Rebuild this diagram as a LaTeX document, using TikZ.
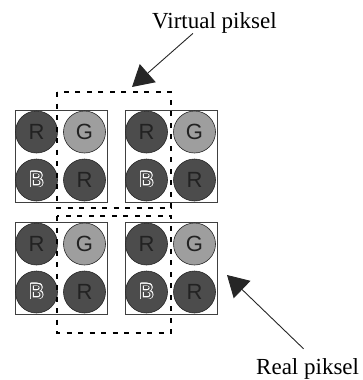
\documentclass[tikz,border=0pt]{standalone}
\usepackage{fontspec}
\setmainfont{Liberation Serif}
\newfontfamily\dotfont{Liberation Sans}
\usepackage{contour}
\contourlength{0.7pt}
\usetikzlibrary{arrows.meta}
\definecolor{darkdot}{RGB}{76,76,76}
\definecolor{litedot}{RGB}{158,158,158}
\definecolor{dotink}{RGB}{34,34,34}
\begin{document}
\begin{tikzpicture}[x=1pt,y=1pt,yscale=-1,
  cell/.style={draw=black!75,line width=0.8pt},
  dot/.style={circle,draw=black!85,line width=0.6pt,minimum size=42pt,inner sep=0pt,text=dotink,font=\dotfont\fontsize{22}{22}\selectfont},
  virtframe/.style={line width=2.8pt,dash pattern=on 5pt off 6.5pt},
  lbl/.style={inner sep=0pt,font=\fontsize{23}{27}\selectfont},
  pointer/.style={draw=black!85,line width=0.9pt,-{Triangle[length=21pt,width=24pt]}}]
\useasboundingbox (0,0) rectangle (363,380);
% the four real pixels
\foreach \bx/\by [count=\k] in {15/110,125/110,15/222,125/222} {
  \draw[cell] (\bx,\by) rectangle ++(92,92);
  \node[dot,fill=darkdot] (r\k) at (\bx+21.5,\by+22) {R};
  \node[dot,fill=litedot] (g\k) at (\bx+69.5,\by+22) {G};
  \node[dot,fill=darkdot,text=darkdot] (b\k) at (\bx+21.5,\by+70) {\contour{white}{B}};
  \node[dot,fill=darkdot] (s\k) at (\bx+69.5,\by+70) {R};
}
% virtual pixels
\draw[virtframe] (57,92) rectangle (171,208);
\draw[virtframe] (57,216) rectangle (171,333);
% labels
\node[lbl,anchor=base west] (virt) at (152,28.3) {Virtual piksel};
\node[lbl,anchor=base west] (real) at (256,374) {Real piksel};
\coordinate (vtip) at (132,87);
\coordinate (rtip) at (227,275);
\draw[pointer] ([xshift=-21.5pt]virt.south) -- (vtip);
\draw[pointer] ([xshift=-4pt,yshift=-9pt]real.north) -- (rtip);
\end{tikzpicture}
\end{document}
